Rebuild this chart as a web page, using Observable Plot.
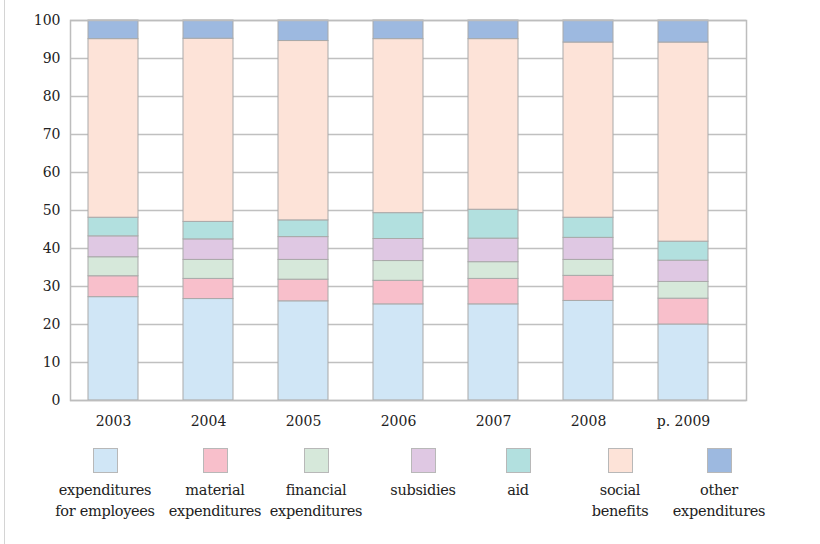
<!DOCTYPE html>
<html>
<head>
<meta charset="utf-8">
<script src="https://cdn.jsdelivr.net/npm/d3@7"></script>
<script src="https://cdn.jsdelivr.net/npm/@observablehq/plot@0.6"></script>
<style>
  html, body { margin: 0; padding: 0; background: #fff; }
  #wrap { position: relative; width: 820px; height: 544px; overflow: hidden; font-family: "DejaVu Serif", "Liberation Serif", "Times New Roman", serif; color: #222; }
  #edge { position: absolute; left: 4px; top: 0; width: 1px; height: 544px; background: #d4d4d4; }
  #legend { position: relative; width: 820px; height: 112px; }
  .item { position: absolute; top: 16px; width: 130px; margin-left: -65px; text-align: center; }
  .sw { width: 25px; height: 25px; box-sizing: border-box; border: 1px solid #b8b8b8; margin: 0 auto; }
  .lab { margin-top: 7px; font-size: 14.5px; line-height: 21px; color: #222; white-space: nowrap; letter-spacing: -0.3px; }
  svg text { font-family: "DejaVu Serif", "Liberation Serif", "Times New Roman", serif !important; }
</style>
</head>
<body>
<div id="wrap"><div id="edge"></div><div id="chart"></div><div id="legend"></div></div>
<script>
const years = ["2003", "2004", "2005", "2006", "2007", "2008", "p. 2009"];
const categories = ["expenditures for employees", "material expenditures", "financial expenditures", "subsidies", "aid", "social benefits", "other expenditures"];
const legendLabels = ["expenditures<br>for employees", "material<br>expenditures", "financial<br>expenditures", "subsidies", "aid", "social<br>benefits", "other<br>expenditures"];
const colors = ["#d0e6f6", "#f8bfcb", "#d6e8da", "#dfc8e3", "#b2e0df", "#fde3d8", "#9db9e0"];
const employees = [27.2, 26.7, 26.1, 25.3, 25.3, 26.2, 20.0];
const material  = [5.5, 5.3, 5.7, 6.2, 6.7, 6.6, 6.8];
const financial = [5.0, 5.0, 5.2, 5.2, 4.4, 4.2, 4.4];
const subsidies = [5.5, 5.4, 6.0, 5.8, 6.2, 5.8, 5.6];
const aid       = [4.9, 4.6, 4.4, 6.8, 7.6, 5.3, 5.0];
const social    = [47.0, 48.2, 47.2, 45.8, 44.9, 46.1, 52.4];
const other     = [4.9, 4.8, 5.4, 4.9, 4.9, 5.8, 5.8];
const yTicks = [0, 10, 20, 30, 40, 50, 60, 70, 80, 90, 100];

const series = [employees, material, financial, subsidies, aid, social, other];
const data = [];
years.forEach((y, i) => {
  series.forEach((s, k) => data.push({year: y, cat: categories[k], value: s[i]}));
});

const chart = Plot.plot({
  width: 820,
  height: 432,
  marginLeft: 70,
  marginRight: 74,
  marginTop: 20,
  marginBottom: 32,
  style: {fontFamily: "'DejaVu Serif', 'Liberation Serif', serif", fontSize: "14px", color: "#222", background: "#fff"},
  x: {domain: years, range: [65.1, 731.3], paddingInner: 0.475, paddingOuter: 0.2375, label: null},
  y: {domain: [0, 100], label: null},
  color: {domain: categories, range: colors},
  marks: [
    Plot.ruleY(yTicks, {stroke: "#c0c0c0", strokeWidth: 1.5}),
    Plot.barY(data, {x: "year", y: "value", fill: "cat", stroke: "#a9a9a9", strokeWidth: 1}),
    Plot.frame({stroke: "#bdbdbd", strokeWidth: 1.5}),
    Plot.axisY({ticks: yTicks, tickSize: 0, tickPadding: 10, fontSize: 14, label: null}),
    Plot.axisX({tickSize: 0, tickPadding: 16, fontSize: 14, label: null})
  ]
});
document.getElementById("chart").appendChild(chart);

const centers = [105, 215, 316, 423, 518, 620, 719];
const legend = document.getElementById("legend");
categories.forEach((c, i) => {
  const it = document.createElement("div");
  it.className = "item";
  it.style.left = centers[i] + "px";
  it.innerHTML = `<div class="sw" style="background:${colors[i]}"></div><div class="lab">${legendLabels[i]}</div>`;
  legend.appendChild(it);
});
</script>
</body>
</html>
